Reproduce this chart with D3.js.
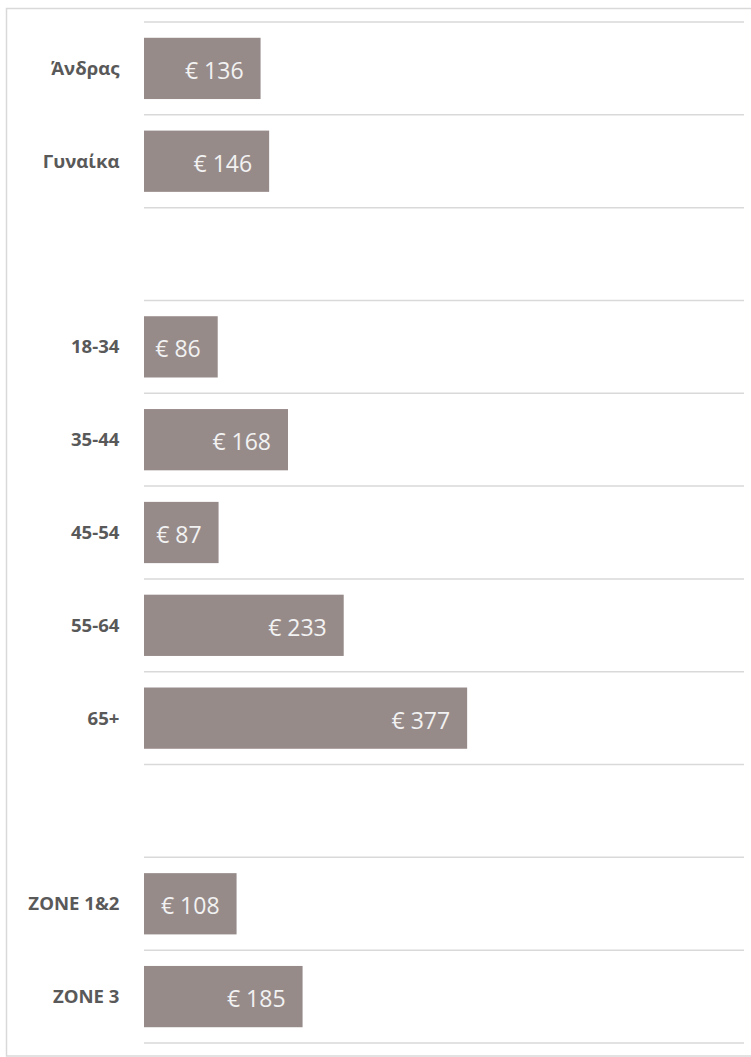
<!DOCTYPE html>
<html>
<head>
<meta charset="utf-8">
<script src="https://cdn.jsdelivr.net/npm/d3@7"></script>
<style>
  html, body { margin: 0; padding: 0; background: #ffffff; }
  svg { display: block; }
</style>
</head>
<body>
<div id="chart"></div>
<script>
// Average spend per group; empty strings are spacer rows between the groups.
const categories = ["Άνδρας", "Γυναίκα", "", "18-34", "35-44", "45-54", "55-64", "65+", "", "ZONE 1&2", "ZONE 3"];
const values = [136, 146, null, 86, 168, 87, 233, 377, null, 108, 185];
const xDomain = [0, 700];

const width = 751, height = 1057;
const barColor = "#978b8a";
const gridColor = "#d9d9d9";

const svg = d3.select("#chart").append("svg")
  .attr("width", width)
  .attr("height", height);

// Outer frame
svg.append("rect")
  .attr("x", 6.5).attr("y", 8.5)
  .attr("width", width + 10).attr("height", 1047.5)
  .attr("fill", "none")
  .attr("stroke", gridColor)
  .attr("stroke-width", 1.5);

const rows = categories.map((c, i) => ({ key: i, label: c, value: values[i] }));

const x = d3.scaleLinear().domain(xDomain).range([144, 744]);
const y = d3.scaleBand()
  .domain(rows.map(d => d.key))
  .range([22, 1043])
  .paddingInner(0.34)
  .paddingOuter(0.17);

// Horizontal separators at the band boundaries
const step = y.step();
const lines = d3.range(categories.length + 1).map(i => y.range()[0] + i * step);
svg.append("g").selectAll("line")
  .data(lines)
  .join("line")
  .attr("x1", x(xDomain[0])).attr("x2", x(xDomain[1]))
  .attr("y1", d => d).attr("y2", d => d)
  .attr("stroke", gridColor)
  .attr("stroke-width", 1.5);

const data = rows.filter(d => d.value != null);

// Bars
svg.append("g").selectAll("rect")
  .data(data)
  .join("rect")
  .attr("x", x(0))
  .attr("y", d => y(d.key))
  .attr("width", d => x(d.value) - x(0))
  .attr("height", y.bandwidth())
  .attr("fill", barColor);

// Category labels
svg.append("g").selectAll("text")
  .data(data)
  .join("text")
  .attr("x", 119.5)
  .attr("y", d => y(d.key) + y.bandwidth() / 2 + 6.5)
  .attr("text-anchor", "end")
  .attr("font-family", "'Open Sans', sans-serif")
  .attr("font-weight", 700)
  .attr("font-size", 18.6)
  .attr("fill", "#595959")
  .text(d => d.label);

// Value labels inside the bar ends
svg.append("g").selectAll("text")
  .data(data)
  .join("text")
  .attr("x", d => x(d.value) - 17)
  .attr("y", d => y(d.key) + y.bandwidth() / 2 + 10.5)
  .attr("text-anchor", "end")
  .attr("font-family", "'Open Sans', sans-serif")
  .attr("font-size", 23)
  .attr("fill", "#f2f2f2")
  .text(d => "€ " + d.value);
</script>
</body>
</html>
